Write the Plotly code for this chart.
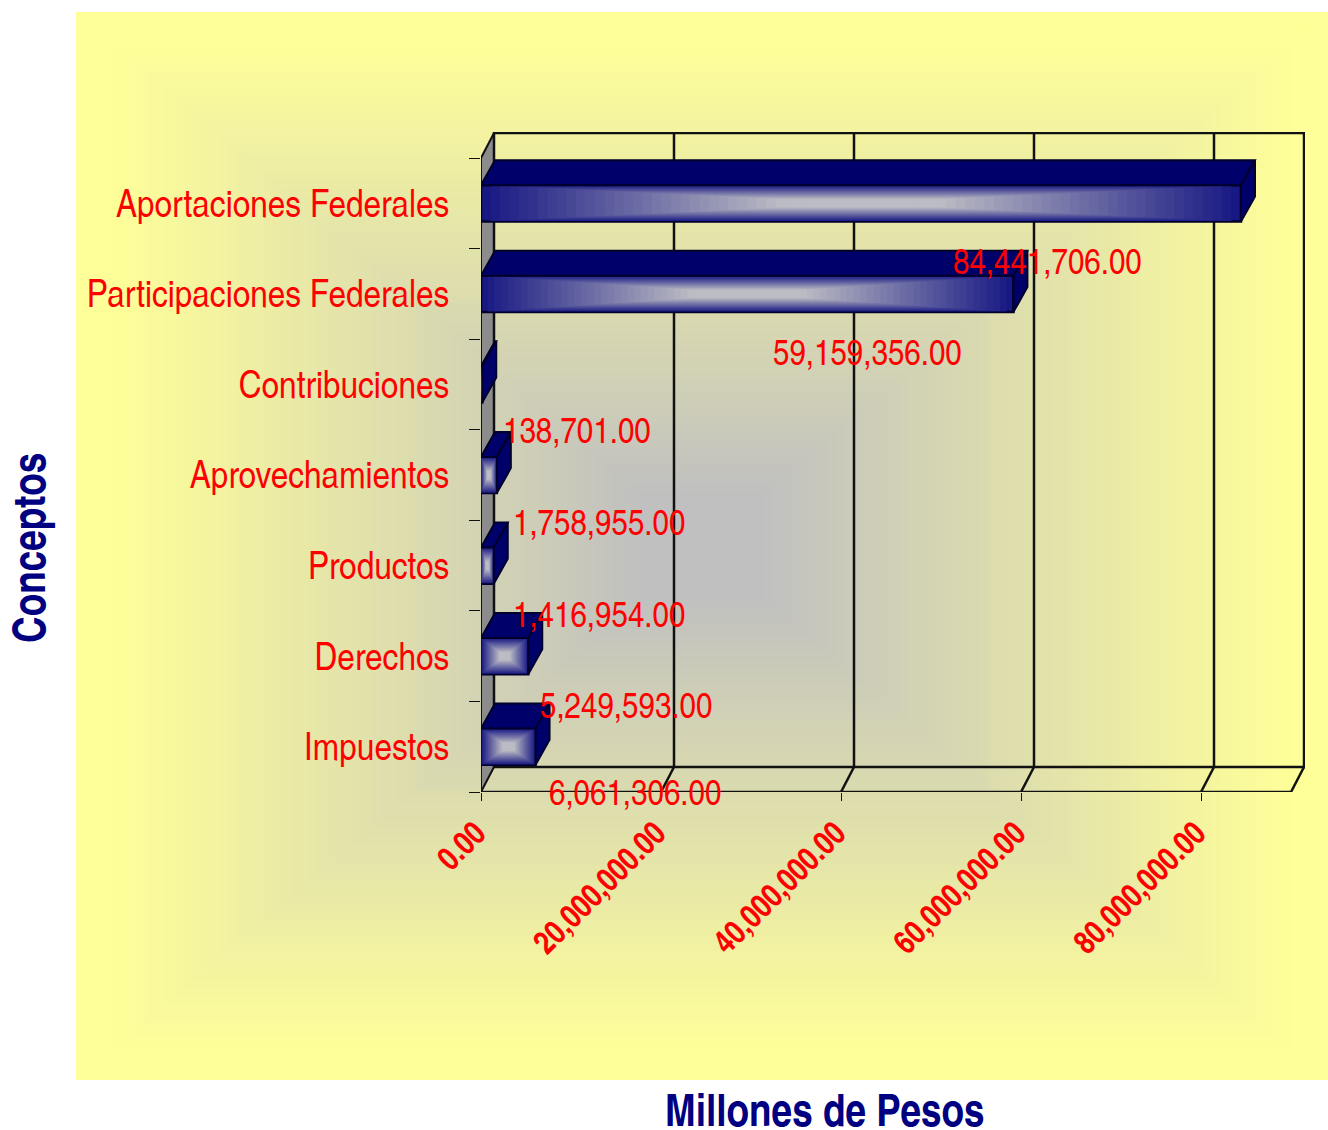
import plotly.graph_objects as go

# ---- data ----
categories = ["Impuestos", "Derechos", "Productos", "Aprovechamientos",
              "Contribuciones", "Participaciones Federales", "Aportaciones Federales"]
values = [6061306.00, 5249593.00, 1416954.00, 1758955.00, 138701.00, 59159356.00, 84441706.00]
x_ticks = [0, 20000000, 40000000, 60000000, 80000000]
x_title = "Millones de Pesos"
y_title = "Conceptos"

# ---- label placement (pixels relative to each bar end / centre) ----
label_dx = [99, 98, 105, 102, 95, -146, -193]
label_dy = [-44, -47, -47, -45, -44, -57, -56]

# ---- styling ----
W, H = 1328, 1130
FONT = "'TeX Gyre Heros Cn', 'Arial Narrow', 'Liberation Sans', sans-serif"
L, R, T, B = 481, 1291, 158, 792
FXMAX = 90000000                      # right end of the floor's front edge
PX_X = FXMAX / (R - L)                # value units per pixel
PX_Y = 7 / (B - T)                    # category units per pixel
BAR_W = 0.4
WALL_DX = PX_X * 13
WALL_DY = PX_Y * 25
BAR_DX = PX_X * 14
YMIN, YMAX = -0.5, 6.5


def mix(a, b, t):
    return "rgb(%d,%d,%d)" % tuple(round(a[i] + (b[i] - a[i]) * t) for i in range(3))


fig = go.Figure()

# rectangular "from centre" gradient on the chart area
shapes = []
bx0, bx1, by0, by1 = 76, 1328, 12, 1080
STEPS = 70
for i in range(STEPS):
    t = i / STEPS
    ix = t * (bx1 - bx0) / 2
    iy = t * (by1 - by0) / 2
    shapes.append(dict(type="rect", xref="paper", yref="paper", layer="below",
                       x0=(bx0 + ix) / W, x1=(bx1 - ix) / W,
                       y0=1 - (by0 + iy) / H, y1=1 - (by1 - iy) / H,
                       line=dict(width=0),
                       fillcolor=mix((255, 255, 153), (192, 192, 192), max(0, min(1, (t - 0.05) / 0.85)))))

wall_line = dict(color="#111111", width=2.5)
# left wall
shapes.append(dict(type="path", layer="below", xref="x", yref="y",
                   path=f"M 0 {YMIN} L {WALL_DX} {YMIN+WALL_DY} L {WALL_DX} {YMAX+WALL_DY} L 0 {YMAX} Z",
                   fillcolor="#8c8c8c", line=dict(color="#111111", width=2)))
# back wall
shapes.append(dict(type="rect", layer="below", xref="x", yref="y",
                   x0=WALL_DX, x1=FXMAX + WALL_DX, y0=YMIN + WALL_DY, y1=YMAX + WALL_DY,
                   line=wall_line))
# floor front edge and right edge
shapes.append(dict(type="line", layer="below", xref="x", yref="y",
                   x0=0, x1=FXMAX, y0=YMIN, y1=YMIN, line=wall_line))
shapes.append(dict(type="line", layer="below", xref="x", yref="y",
                   x0=FXMAX, x1=FXMAX + WALL_DX, y0=YMIN, y1=YMIN + WALL_DY, line=wall_line))
for v in x_ticks[1:]:
    shapes.append(dict(type="line", layer="below", xref="x", yref="y",
                       x0=v + WALL_DX, x1=v + WALL_DX, y0=YMIN + WALL_DY, y1=YMAX + WALL_DY, line=wall_line))
    shapes.append(dict(type="line", layer="below", xref="x", yref="y",
                       x0=v, x1=v + WALL_DX, y0=YMIN, y1=YMIN + WALL_DY, line=wall_line))

# front faces: nested bars give the rectangular gradient
ypos = list(range(len(categories)))
GRAD = 40
for i in range(GRAD):
    t = i / GRAD * 0.5
    col = mix((24, 24, 132), (188, 188, 196), min(1, i / (GRAD - 1) / 0.8))
    fig.add_trace(go.Bar(
        orientation="h", y=ypos,
        x=[v * (1 - 2 * t) for v in values],
        base=[v * t for v in values],
        width=BAR_W * (1 - 2 * t),
        marker=dict(color=col,
                    line=dict(color="#00002a", width=2.5) if i == 0 else dict(width=0)),
        hoverinfo="skip", showlegend=False))

# top and side faces of the bars
tx, ty, sx, sy = [], [], [], []
for y, v in zip(ypos, values):
    hi, lo = y + BAR_W / 2, y - BAR_W / 2
    tx += [0, BAR_DX, v + BAR_DX, v, 0, None]
    ty += [hi, hi + WALL_DY, hi + WALL_DY, hi, hi, None]
    sx += [v, v + BAR_DX, v + BAR_DX, v, v, None]
    sy += [hi, hi + WALL_DY, lo + WALL_DY, lo, hi, None]
for xs, ys in ((tx, ty), (sx, sy)):
    fig.add_trace(go.Scatter(x=xs, y=ys, mode="lines", fill="toself",
                             fillcolor="#00006a", line=dict(color="#00002a", width=2),
                             hoverinfo="skip", showlegend=False))

# value labels
annotations = []
for y, v, dx, dy in zip(ypos, values, label_dx, label_dy):
    annotations.append(dict(x=v, y=y, xref="x", yref="y", text=f"{v:,.2f}", showarrow=False,
                            xshift=dx, yshift=dy, font=dict(family=FONT, size=36, color="#ff0000")))
# axis titles
annotations.append(dict(x=825 / W, y=1 - 1108 / H, xref="paper", yref="paper", text=x_title, showarrow=False,
                        xanchor="center", yanchor="middle",
                        font=dict(family=FONT, size=45, color="#000080", weight=700)))
annotations.append(dict(x=27 / W, y=1 - 548 / H, xref="paper", yref="paper", text=y_title, showarrow=False,
                        xanchor="center", yanchor="middle", textangle=-90,
                        font=dict(family=FONT, size=45, color="#000080", weight=700)))

fig.update_layout(
    width=W, height=H, margin=dict(l=0, r=0, t=0, b=0, autoexpand=False),
    paper_bgcolor="white", plot_bgcolor="rgba(0,0,0,0)",
    barmode="overlay", showlegend=False, shapes=shapes, annotations=annotations,
    xaxis=dict(domain=[L / W, (R + 14) / W], range=[0, PX_X * (R + 14 - L)], tickmode="array", tickvals=x_ticks,
               tickformat=",.2f", tickangle=-45, ticks="outside", ticklen=8, tickcolor="#111111", tickwidth=1,
               ticklabelshift=-5,
               tickfont=dict(family=FONT, size=32.5, color="#ff0000", weight=700),
               showgrid=False, zeroline=False, showline=False),
    yaxis=dict(domain=[1 - B / H, 1 - (T - 26) / H], range=[YMIN, YMAX + PX_Y * 26], tickmode="array",
               tickvals=ypos, ticktext=categories, ticks="outside", ticklen=23,
               tickcolor="rgba(0,0,0,0)",
               tickfont=dict(family=FONT, size=38.5, color="#ff0000"),
               minor=dict(tickmode="array", tickvals=[y - 0.5 for y in ypos] + [6.5], ticks="outside",
                          ticklen=11, tickcolor="#111111", tickwidth=1, showgrid=False),
               showgrid=False, zeroline=False, showline=False),
)

fig.write_html("out.html", config={"displayModeBar": False},
               post_script="document.body.style.margin='0';document.documentElement.style.overflow='hidden';")
